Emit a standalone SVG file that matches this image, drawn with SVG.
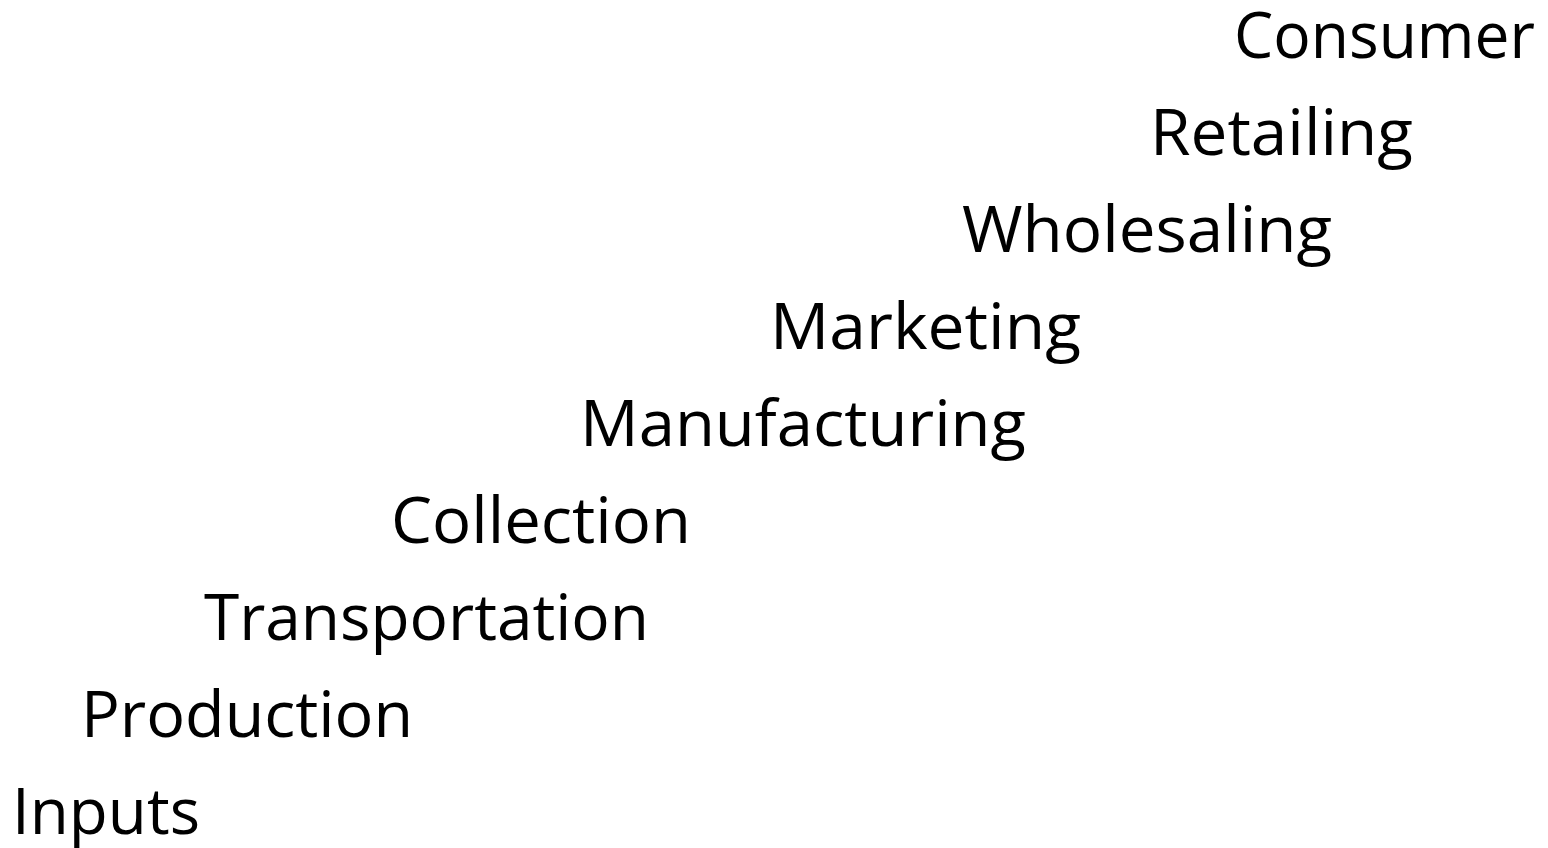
<svg xmlns="http://www.w3.org/2000/svg" width="1548" height="848" viewBox="0 0 1548 848">
<style>
.lbl{font-family:"Open Sans","Noto Sans","Liberation Sans",sans-serif;font-size:64px;fill:#000;}
</style>
<rect width="1548" height="848" fill="#fff"/>
<g id="consumer"><text class="lbl" x="1234" y="58" textLength="301" lengthAdjust="spacingAndGlyphs">Consumer</text></g>
<g id="retailing"><text class="lbl" x="1150" y="155" textLength="263" lengthAdjust="spacingAndGlyphs">Retailing</text></g>
<g id="wholesaling"><text class="lbl" x="962" y="252" textLength="370" lengthAdjust="spacingAndGlyphs">Wholesaling</text></g>
<g id="marketing"><text class="lbl" x="770" y="349" textLength="311" lengthAdjust="spacingAndGlyphs">Marketing</text></g>
<g id="manufacturing"><text class="lbl" x="580" y="446" textLength="446" lengthAdjust="spacingAndGlyphs">Manufacturing</text></g>
<g id="collection"><text class="lbl" x="391" y="543" textLength="300" lengthAdjust="spacingAndGlyphs">Collection</text></g>
<g id="transportation"><text class="lbl" x="204" y="640" textLength="445" lengthAdjust="spacingAndGlyphs">Transportation</text></g>
<g id="production"><text class="lbl" x="81" y="737" textLength="332" lengthAdjust="spacingAndGlyphs">Production</text></g>
<g id="inputs"><text class="lbl" x="12" y="834" textLength="188" lengthAdjust="spacingAndGlyphs">Inputs</text></g>
<g id="connectors"/>
</svg>
